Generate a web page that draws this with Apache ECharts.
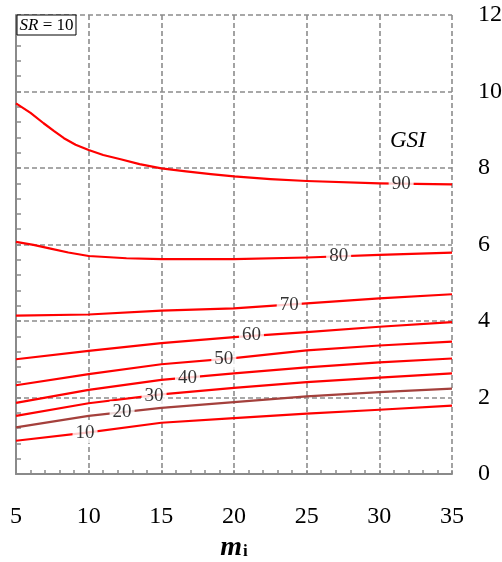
<!DOCTYPE html>
<html>
<head>
<meta charset="utf-8">
<script src="https://cdn.jsdelivr.net/npm/echarts@6/dist/echarts.min.js"></script>
<style>
  html, body { margin: 0; padding: 0; background: #fff; }
  #chart { width: 502px; height: 562px; }
</style>
</head>
<body>
<div id="chart"></div>
<script>
// m_i sample positions shared by the lower GSI contours
const mi = [5, 10, 15, 20, 25, 30, 35];

// Contour values (vertical axis) for each GSI level
const gsi10 = [0.87, 1.09, 1.34, 1.46, 1.58, 1.68, 1.79];
const gsi20 = [1.22, 1.52, 1.73, 1.88, 2.03, 2.14, 2.23];
const gsi30 = [1.52, 1.85, 2.08, 2.25, 2.40, 2.52, 2.63];
const gsi40 = [1.86, 2.20, 2.46, 2.63, 2.79, 2.92, 3.02];
const gsi50 = [2.32, 2.61, 2.87, 3.03, 3.23, 3.36, 3.46];
const gsi60 = [3.00, 3.22, 3.42, 3.58, 3.71, 3.85, 3.97];
const gsi70 = [4.14, 4.17, 4.27, 4.33, 4.46, 4.59, 4.70];

// The upper two contours bend more, so they carry extra samples
const mi80 = [5, 6.2, 7.3, 8.6, 10, 12.6, 15, 20, 25, 30, 35];
const gsi80 = [6.07, 5.99, 5.90, 5.79, 5.70, 5.64, 5.62, 5.62, 5.66, 5.73, 5.79];
const mi90 = [5, 6.0, 6.9, 7.6, 8.3, 9.1, 10, 11, 12.2, 13.5, 15, 16.7, 18.4, 20, 22.5, 25, 30, 35];
const gsi90 = [9.69, 9.44, 9.17, 8.97, 8.78, 8.61, 8.47, 8.34, 8.23, 8.10, 7.99, 7.91, 7.84, 7.78, 7.71, 7.66, 7.60, 7.57];

// Inline contour labels: m_i position, value, text
const labelM = [9.75, 12.3, 14.5, 16.8, 19.3, 21.2, 23.8, 27.2, 31.5];
const labelV = [1.08, 1.63, 2.05, 2.51, 3.00, 3.63, 4.42, 5.70, 7.59];
const labelText = ['10', '20', '30', '40', '50', '60', '70', '80', '90'];

const xTicks = [5, 10, 15, 20, 25, 30, 35];
const yTicks = [0, 2, 4, 6, 8, 10, 12];

const SERIF = '"Liberation Serif", "DejaVu Serif", serif';
const AXIS_GRAY = '#8a8a8a';
const GRID_GRAY = '#8c8c8c';

function pairs(xs, ys) { return xs.map((x, i) => [x, ys[i]]); }

const contours = [
  { name: 'GSI 10', data: pairs(mi, gsi10), color: '#ff0000' },
  { name: 'GSI 20', data: pairs(mi, gsi20), color: '#a4403c' },
  { name: 'GSI 30', data: pairs(mi, gsi30), color: '#ff0000' },
  { name: 'GSI 40', data: pairs(mi, gsi40), color: '#ff0000' },
  { name: 'GSI 50', data: pairs(mi, gsi50), color: '#ff0000' },
  { name: 'GSI 60', data: pairs(mi, gsi60), color: '#ff0000' },
  { name: 'GSI 70', data: pairs(mi, gsi70), color: '#ff0000' },
  { name: 'GSI 80', data: pairs(mi80, gsi80), color: '#ff0000' },
  { name: 'GSI 90', data: pairs(mi90, gsi90), color: '#ff0000' }
];

const series = contours.map(c => ({
  name: c.name,
  type: 'line',
  xAxisIndex: 0,
  yAxisIndex: 0,
  data: c.data,
  smooth: false,
  showSymbol: false,
  silent: true,
  z: 3,
  lineStyle: { color: c.color, width: 2.2, join: 'round' }
}));

// Labels sit on their contour with a white box that breaks the line
series.push({
  name: 'labels',
  type: 'scatter',
  xAxisIndex: 0,
  yAxisIndex: 0,
  symbolSize: 0,
  silent: true,
  z: 5,
  data: labelM.map((m, i) => ({ value: [m, labelV[i]], name: labelText[i] })),
  label: {
    show: true,
    position: 'inside',
    formatter: p => p.name,
    fontFamily: SERIF,
    fontSize: 19,
    color: '#000',
    backgroundColor: '#fff',
    padding: [2, 3, 0, 3]
  }
});

const chart = echarts.init(document.getElementById('chart'), null, { renderer: 'canvas' });

chart.setOption({
  animation: false,
  backgroundColor: '#fff',
  grid: { left: 16, right: 50, top: 15, bottom: 88, containLabel: false, outerBoundsMode: 'none' },
  xAxis: [
    {
      type: 'value',
      position: 'bottom',
      min: 5, max: 35, interval: 5,
      axisLine: { show: true, onZero: false, lineStyle: { color: AXIS_GRAY, width: 2 } },
      axisTick: { show: false },
      axisLabel: {
        margin: 31,
        fontFamily: SERIF, fontSize: 24, color: '#000',
        formatter: v => (xTicks.includes(v) ? String(v) : '')
      },
      splitLine: { show: true, lineStyle: { color: GRID_GRAY, width: 1.6, type: [5, 3] } },
      name: '{m|m}{i|i}',
      nameLocation: 'middle',
      nameGap: 60,
      nameTextStyle: {
        rich: {
          m: { fontFamily: SERIF, fontSize: 28, fontWeight: 'bold', fontStyle: 'italic', color: '#000' },
          i: { fontFamily: SERIF, fontSize: 17, fontWeight: 'bold', color: '#000', padding: [7, 0, 0, 1] }
        }
      }
    },
    {
      type: 'value',
      position: 'bottom',
      offset: 0,
      min: 5, max: 35, interval: 1,
      axisLine: { show: false, onZero: false },
      axisTick: { show: true, inside: true, length: 4, lineStyle: { color: AXIS_GRAY, width: 1.5 } },
      axisLabel: { show: false },
      splitLine: { show: false }
    }
  ],
  yAxis: [
    {
      type: 'value',
      position: 'right',
      min: 0, max: 12, interval: 2,
      axisLine: { show: false },
      axisTick: { show: false },
      axisLabel: {
        margin: 26, align: 'left',
        fontFamily: SERIF, fontSize: 24, color: '#000',
        formatter: v => (yTicks.includes(v) ? String(v) : '')
      },
      splitLine: { show: true, lineStyle: { color: GRID_GRAY, width: 1.6, type: [5, 3] } }
    },
    {
      type: 'value',
      position: 'left',
      min: 0, max: 12, interval: 0.4,
      axisLine: { show: true, onZero: false, lineStyle: { color: AXIS_GRAY, width: 2 } },
      axisTick: { show: true, inside: true, length: 5, lineStyle: { color: AXIS_GRAY, width: 1.5 } },
      axisLabel: { show: false },
      splitLine: { show: false }
    }
  ],
  graphic: [
    {
      type: 'text',
      left: 390, top: 129,
      z: 10,
      style: {
        text: 'GSI',
        font: 'italic 23px ' + SERIF,
        fill: '#000'
      }
    },
    {
      type: 'rect',
      shape: { x: 17, y: 15, width: 59, height: 20 },
      z: 10,
      style: { fill: '#fff', stroke: '#000', lineWidth: 1 }
    },
    {
      type: 'text',
      x: 46.5, y: 25.5,
      z: 11,
      style: {
        text: '{a|SR}{b| = 10}',
        align: 'center',
        verticalAlign: 'middle',
        rich: {
          a: { fontFamily: SERIF, fontSize: 17, fontStyle: 'italic', fill: '#000' },
          b: { fontFamily: SERIF, fontSize: 17, fill: '#000' }
        }
      }
    }
  ],
  series: series
});
</script>
</body>
</html>
